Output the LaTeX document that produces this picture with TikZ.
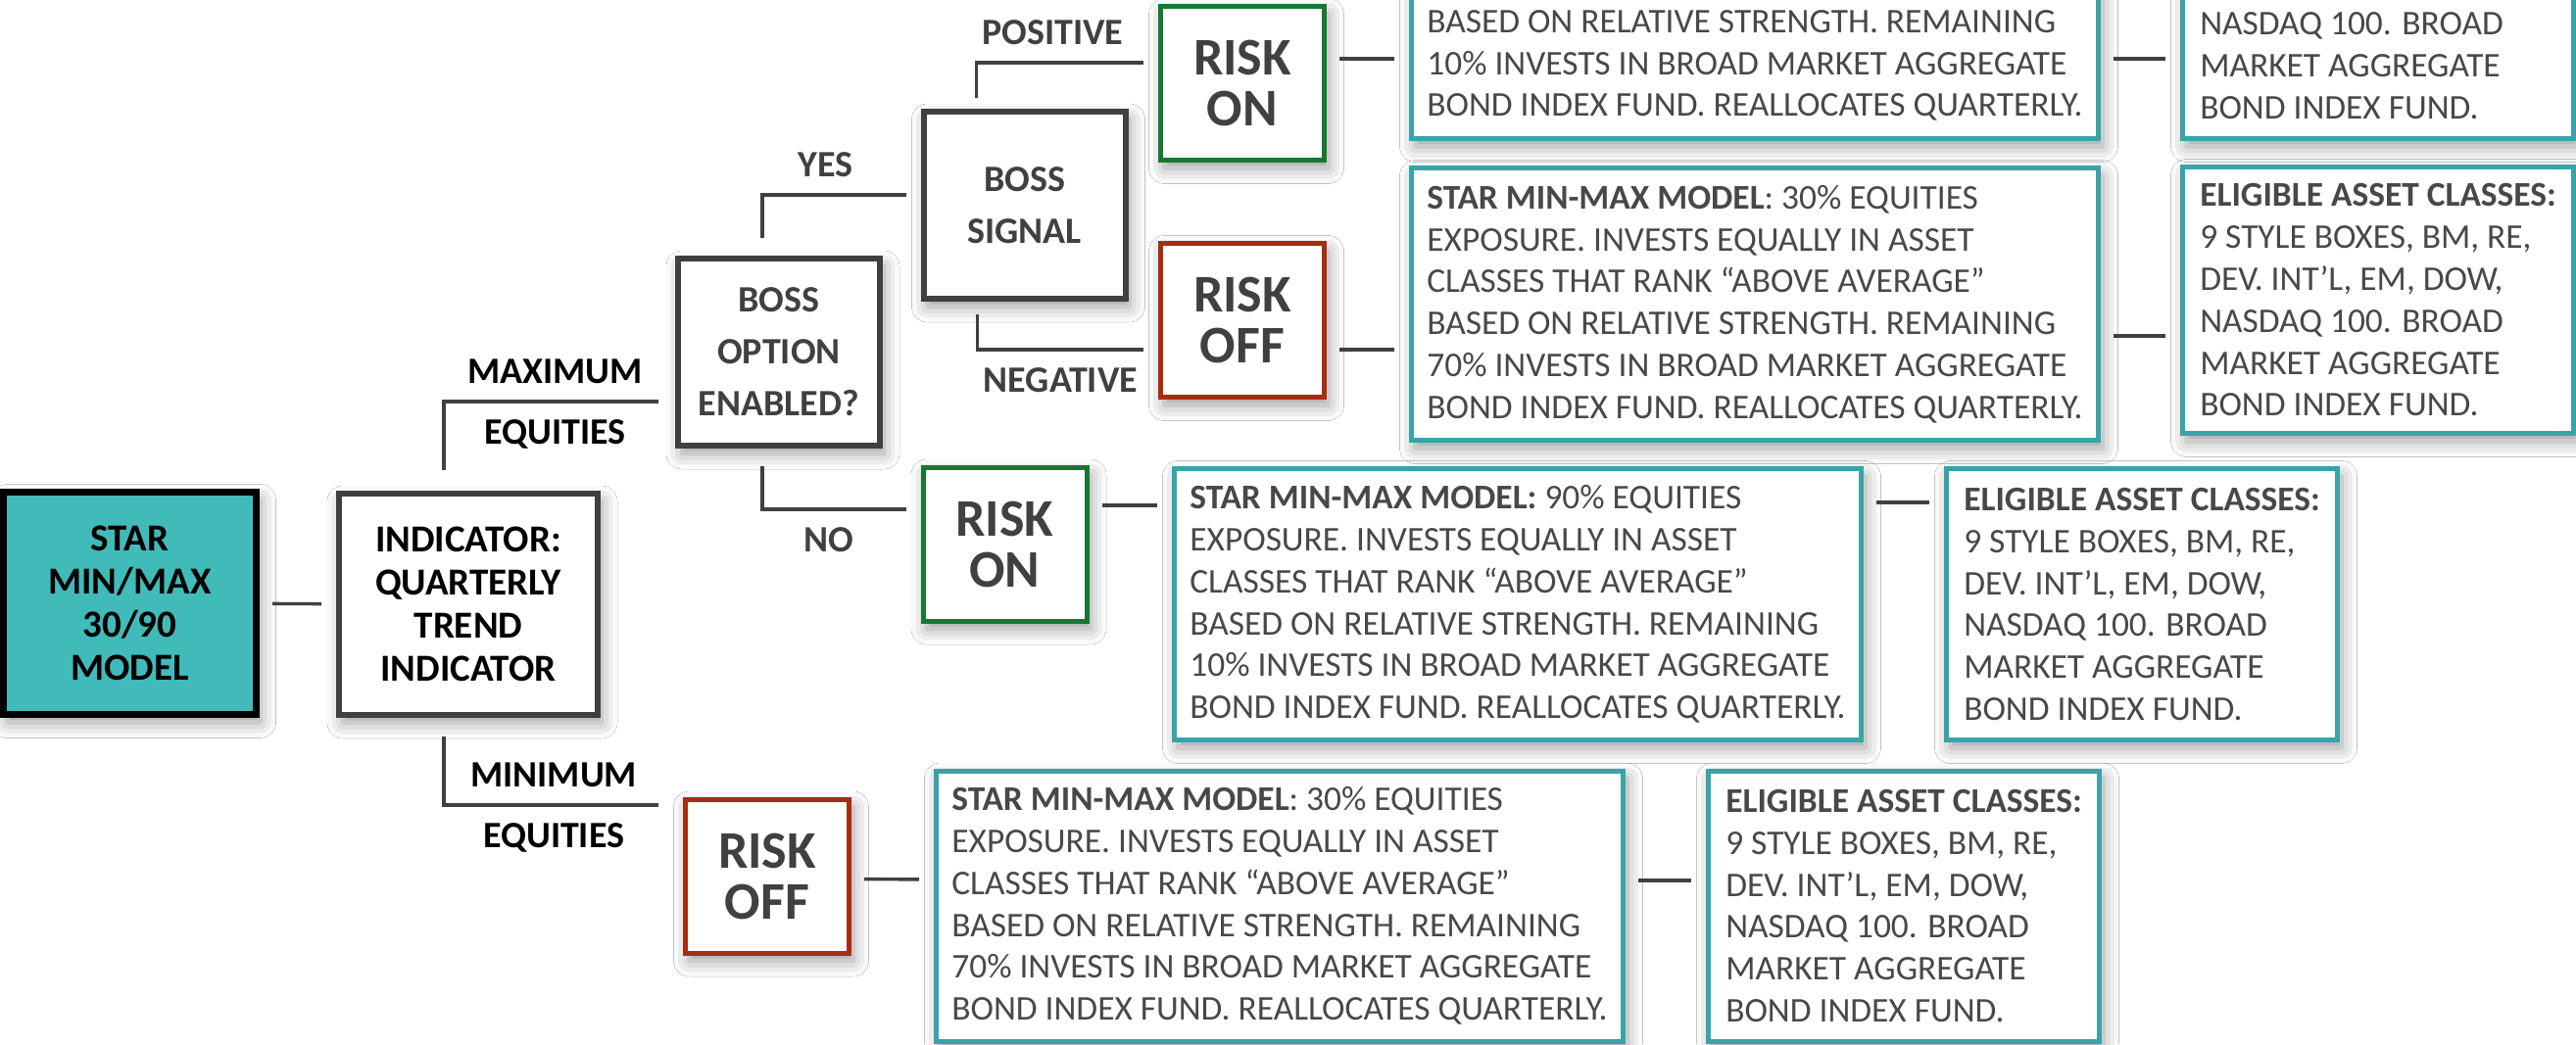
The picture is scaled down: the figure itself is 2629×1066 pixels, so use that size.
\documentclass[tikz,border=0pt]{standalone}
\usepackage{fontspec}
\setmainfont{Carlito}
\usetikzlibrary{shadows.blur}

\definecolor{tuerkis}{RGB}{64,187,186}
\definecolor{rahmen}{RGB}{56,164,168}
\definecolor{gruen}{RGB}{22,120,50}
\definecolor{rot}{RGB}{168,44,18}
\definecolor{dunkel}{RGB}{64,64,64}
\definecolor{schrift}{RGB}{72,72,72}

\begin{document}
\begin{tikzpicture}[x=0.5pt, y=-0.5pt,
	schatten/.style={blur shadow={shadow xshift=2pt, shadow yshift=-4pt, shadow blur radius=8pt, shadow opacity=40}},
	kasten/.style={rectangle, draw=dunkel, line width=3pt, fill=white, align=center, text=dunkel,
		font=\bfseries\fontsize{19}{26.5}\selectfont, minimum width=103pt, minimum height=95.5pt, schatten},
	start/.style={kasten, draw=black, fill=tuerkis, text=black, line width=3.5pt, font=\bfseries\fontsize{19.5}{22}\selectfont},
	risiko/.style={kasten, line width=2.5pt, font=\bfseries\fontsize{27}{26}\selectfont, minimum width=83.5pt, minimum height=78.5pt},
	riskon/.style={risiko, draw=gruen},
	riskoff/.style={risiko, draw=rot},
	info/.style={rectangle, draw=rahmen, line width=2.5pt, fill=white, align=left, text=schrift,
		font=\fontsize{17.7}{21.4}\selectfont, inner xsep=0pt, schatten},
	modell/.style={info, minimum width=350.5pt},
	klassen/.style={info, minimum width=199.5pt},
	linie/.style={draw=dunkel, line width=1.7pt, shorten <=6.5pt, shorten >=7.5pt},
	zweig/.style={font=\bfseries\fontsize{19}{19}\selectfont, text=dunkel, inner sep=2pt},
]
	\useasboundingbox (0,0) rectangle (2629,1066);
	\clip (0,0) rectangle (2629,1066);
	\fill[white] (0,0) rectangle (2629,1066);

	% Linke Spalte
	\node[start, minimum width=129pt, minimum height=113.5pt] (star) at (132.5,616) {STAR\\MIN/MAX\\30/90\\MODEL};
	\node[start, draw=dunkel, fill=white, line width=3pt, minimum width=132pt, minimum height=113pt] (indikator) at (478,617) {INDICATOR:\\QUARTERLY\\TREND\\INDICATOR};

	% BOSS
	\node[kasten] (option) at (795,359.5) {BOSS\\OPTION\\ENABLED?};
	\node[kasten] (signal) at (1045.5,209.5) {BOSS\\SIGNAL};

	% Risiko
	\node[riskon] (onA) at (1268,85) {RISK\\ON};
	\node[riskoff] (offA) at (1268,327) {RISK\\OFF};
	\node[riskon] (onB) at (1025.5,555.5) {RISK\\ON};
	\node[riskoff] (offB) at (783,894.5) {RISK\\OFF};

	% Modelle
	\node[modell, anchor=south west, inner ysep=9pt] (modellA) at (1438,144) {\rule{0pt}{150pt}\\BASED ON RELATIVE STRENGTH. REMAINING\\10\% INVESTS IN BROAD MARKET AGGREGATE\\BOND INDEX FUND. REALLOCATES QUARTERLY.};
	\node[modell, minimum height=139pt] (modellB) at (1791,310.5) {\textbf{STAR MIN-MAX MODEL}: 30\% EQUITIES\\EXPOSURE. INVESTS EQUALLY IN ASSET\\CLASSES THAT RANK “ABOVE AVERAGE”\\BASED ON RELATIVE STRENGTH. REMAINING\\70\% INVESTS IN BROAD MARKET AGGREGATE\\BOND INDEX FUND. REALLOCATES QUARTERLY.};
	\node[modell, minimum height=138.5pt] (modellC) at (1549,617) {\textbf{STAR MIN-MAX MODEL:} 90\% EQUITIES\\EXPOSURE. INVESTS EQUALLY IN ASSET\\CLASSES THAT RANK “ABOVE AVERAGE”\\BASED ON RELATIVE STRENGTH. REMAINING\\10\% INVESTS IN BROAD MARKET AGGREGATE\\BOND INDEX FUND. REALLOCATES QUARTERLY.};
	\node[modell, minimum height=138pt] (modellD) at (1306,925) {\textbf{STAR MIN-MAX MODEL}: 30\% EQUITIES\\EXPOSURE. INVESTS EQUALLY IN ASSET\\CLASSES THAT RANK “ABOVE AVERAGE”\\BASED ON RELATIVE STRENGTH. REMAINING\\70\% INVESTS IN BROAD MARKET AGGREGATE\\BOND INDEX FUND. REALLOCATES QUARTERLY.};

	% Anlageklassen
	\node[klassen, anchor=south west, inner ysep=10pt] (klassenA) at (2225,144) {\rule{0pt}{150pt}\phantom{\textbf{ELIGIBLE ASSET CLASSES:}}\\NASDAQ 100. BROAD\\MARKET AGGREGATE\\BOND INDEX FUND.};
	\node[klassen, minimum height=136pt] (klassenB) at (2427,306.5) {\textbf{ELIGIBLE ASSET CLASSES:}\\9 STYLE BOXES, BM, RE,\\DEV. INT’L, EM, DOW,\\NASDAQ 100. BROAD\\MARKET AGGREGATE\\BOND INDEX FUND.};
	\node[klassen, minimum height=138.5pt] (klassenC) at (2186,617) {\textbf{ELIGIBLE ASSET CLASSES:}\\9 STYLE BOXES, BM, RE,\\DEV. INT’L, EM, DOW,\\NASDAQ 100. BROAD\\MARKET AGGREGATE\\BOND INDEX FUND.};
	\node[klassen, minimum height=138pt] (klassenD) at (1943,925) {\textbf{ELIGIBLE ASSET CLASSES:}\\9 STYLE BOXES, BM, RE,\\DEV. INT’L, EM, DOW,\\NASDAQ 100. BROAD\\MARKET AGGREGATE\\BOND INDEX FUND.};

	% Verzweigungen
	\draw[linie] (star) -- (indikator);
	\draw[linie, shorten <=10.5pt, shorten >=8.5pt] ([shift={(110,0)}]indikator.north west) |- ([shift={(0,50.5)}]option.west)
		node[zweig, pos=0.74, above=6.5pt, text=black] {MAXIMUM}
		node[zweig, pos=0.74, below=6.5pt, text=black] {EQUITIES};
	\draw[linie, shorten <=9.5pt, shorten >=12.5pt] ([shift={(110,0)}]indikator.south west) |- ([shift={(0,-72.5)}]offB.west)
		node[zweig, pos=0.73, above=6.5pt, text=black] {MINIMUM}
		node[zweig, pos=0.73, below=6.5pt, text=black] {EQUITIES};
	\draw[linie, shorten <=9pt] ([shift={(89,0)}]option.north west) |- ([shift={(0,-10.5)}]signal.west)
		node[zweig, pos=0.70, above=6.5pt] {YES};
	\draw[linie, shorten <=9pt] ([shift={(89,0)}]option.south west) |- ([shift={(0,-35.5)}]onB.west)
		node[zweig, pos=0.71, below=6.5pt] {NO};
	\draw[linie, shorten <=5.5pt] ([shift={(57,0)}]signal.north west) |- ([shift={(0,-21)}]onA.west)
		node[zweig, pos=0.71, above=6.5pt] {POSITIVE};
	\draw[linie] ([shift={(58,0)}]signal.south west) |- ([shift={(0,30)}]offA.west)
		node[zweig, pos=0.73, below=6.5pt] {NEGATIVE};

	% Verbindungen nach rechts
	\draw[linie] ([shift={(0,-25)}]onA.east) -- ([shift={(0,-84)}]modellA.south west);
	\draw[linie] ([shift={(0,-84)}]modellA.south east) -- ([shift={(0,-84)}]klassenA.south west);
	\draw[linie] ([shift={(0,30)}]offA.east) -- ([shift={(0,46.5)}]modellB.west);
	\draw[linie] ([shift={(0,32.5)}]modellB.east) -- ([shift={(0,36.5)}]klassenB.west);
	\draw[linie] ([shift={(0,-39.5)}]onB.east) -- ([shift={(0,-101)}]modellC.west);
	\draw[linie] ([shift={(0,-104)}]modellC.east) -- ([shift={(0,-104)}]klassenC.west);
	\draw[linie] ([shift={(0,3)}]offB.east) -- ([shift={(0,-27)}]modellD.west);
	\draw[linie] ([shift={(0,-26)}]modellD.east) -- ([shift={(0,-26)}]klassenD.west);
\end{tikzpicture}
\end{document}
